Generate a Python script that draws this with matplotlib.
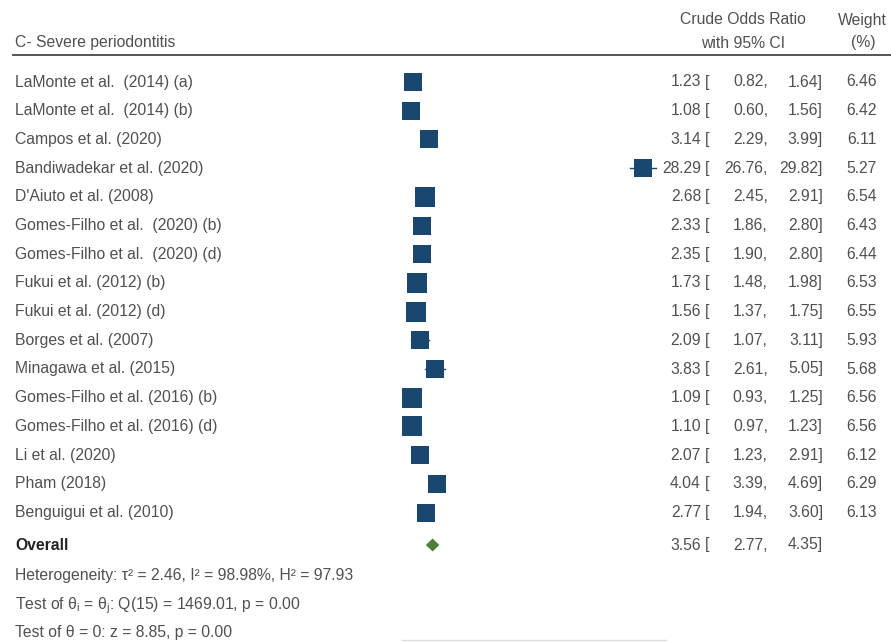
import matplotlib
matplotlib.use("Agg")
import matplotlib.pyplot as plt
import numpy as np
from matplotlib.patches import Polygon

plt.rcParams["font.family"] = ["Liberation Sans", "DejaVu Sans"]
plt.rcParams["mathtext.fontset"] = "custom"
plt.rcParams["mathtext.rm"] = "Liberation Sans"
plt.rcParams["mathtext.it"] = "Liberation Sans:italic"

# ---- data ----
studies = [
    "LaMonte et al.  (2014) (a)",
    "LaMonte et al.  (2014) (b)",
    "Campos et al. (2020)",
    "Bandiwadekar et al. (2020)",
    "D'Aiuto et al. (2008)",
    "Gomes-Filho et al.  (2020) (b)",
    "Gomes-Filho et al.  (2020) (d)",
    "Fukui et al. (2012) (b)",
    "Fukui et al. (2012) (d)",
    "Borges et al. (2007)",
    "Minagawa et al. (2015)",
    "Gomes-Filho et al. (2016) (b)",
    "Gomes-Filho et al. (2016) (d)",
    "Li et al. (2020)",
    "Pham (2018)",
    "Benguigui et al. (2010)",
]
odds_ratio = [1.23, 1.08, 3.14, 28.29, 2.68, 2.33, 2.35, 1.73, 1.56, 2.09,
              3.83, 1.09, 1.10, 2.07, 4.04, 2.77]
ci_low = [0.82, 0.60, 2.29, 26.76, 2.45, 1.86, 1.90, 1.48, 1.37, 1.07,
          2.61, 0.93, 0.97, 1.23, 3.39, 1.94]
ci_high = [1.64, 1.56, 3.99, 29.82, 2.91, 2.80, 2.80, 1.98, 1.75, 3.11,
           5.05, 1.25, 1.23, 2.91, 4.69, 3.60]
weights = [6.46, 6.42, 6.11, 5.27, 6.54, 6.43, 6.44, 6.53, 6.55, 5.93,
           5.68, 6.56, 6.56, 6.12, 6.29, 6.13]

overall_or = 3.56
overall_low = 2.77
overall_high = 4.35

title = "C- Severe periodontitis"
col_header = ["Crude Odds Ratio", "with 95% CI"]
weight_header = ["Weight", "(%)"]
footer = [
    "Heterogeneity: τ² = 2.46, I² = 98.98%, H² = 97.93",
    r"Test of θ${}_{\mathrm{i}}$ = θ${}_{\mathrm{j}}$: Q(15) = 1469.01, p = 0.00",
    "Test of θ = 0: z = 8.85, p = 0.00",
]

# ---- layout ----
W, H = 891, 642
fig = plt.figure(figsize=(W / 100, H / 100), dpi=100)
ax = fig.add_axes([0, 0, 1, 1])
ax.set_axis_off()

x0_px, px_per_unit = 402.3, 8.51
ax.set_xlim(-x0_px / px_per_unit, (W - x0_px) / px_per_unit)
row0_px, row_h = 82.0, 28.7
ax.set_ylim(-(H - row0_px) / row_h, row0_px / row_h)


def row_y(px):
    return -(px - row0_px) / row_h


def fx(px):
    return px / W


tr = ax.get_yaxis_transform()  # x in axes fraction, y in data
text_col = "#505050"
navy = "#1a476f"
green = "#4f7d3a"
fs = 11.3


def put(xpx, y, s, ha="left", va="center", **kw):
    kw.setdefault("color", text_col)
    ax.text(fx(xpx), y, s, transform=tr, ha=ha, va=va, fontsize=fs, **kw)


# header
put(15, row_y(43), title)
put(743, row_y(20), col_header[0], ha="center")
put(743, row_y(43), col_header[1], ha="center")
put(862, row_y(20), weight_header[0], ha="center")
put(863, row_y(43), weight_header[1], ha="center")
ax.plot([fx(12), 1.0], [row_y(54.5)] * 2, transform=tr, color="#555555",
        lw=1.4, solid_capstyle="butt")

# studies
ys = -np.arange(len(studies), dtype=float)
for y, name, est, lo, hi, w in zip(ys, studies, odds_ratio, ci_low, ci_high,
                                   weights):
    put(15, y, name)
    ax.plot([lo, hi], [y, y], color=navy, lw=1.0, zorder=2)
    side_pt = 7.45 * np.sqrt(w) * 0.72
    ax.plot([est], [y], marker="s", ms=side_pt, color=navy, mec=navy,
            mew=0, zorder=3)
    put(701, y, f"{est:.2f}", ha="right")
    put(705, y, "[")
    put(768, y, f"{lo:.2f},", ha="right")
    put(823, y, f"{hi:.2f}]", ha="right")
    put(877, y, f"{w:.2f}", ha="right")

# overall
yo = row_y(545)
dh = 6.5 / row_h
ax.add_patch(Polygon([[overall_low, yo], [overall_or, yo + dh],
                      [overall_high, yo], [overall_or, yo - dh]],
                     closed=True, color=green, lw=0, zorder=3))
put(15, yo, "Overall", color="#222222", fontweight="bold")
put(701, yo, f"{overall_or:.2f}", ha="right")
put(705, yo, "[")
put(768, yo, f"{overall_low:.2f},", ha="right")
put(823, yo, f"{overall_high:.2f}]", ha="right")

# footer statistics, aligned on a common baseline
for py, line in zip([575, 604, 632], footer):
    put(15, row_y(py + 5), line, va="baseline")

# faint axis line at the bottom edge
ax.plot([0, 31], [row_y(640)] * 2, color="#dddddd", lw=1.0)

fig.savefig("out.png", dpi=100, facecolor="white")
